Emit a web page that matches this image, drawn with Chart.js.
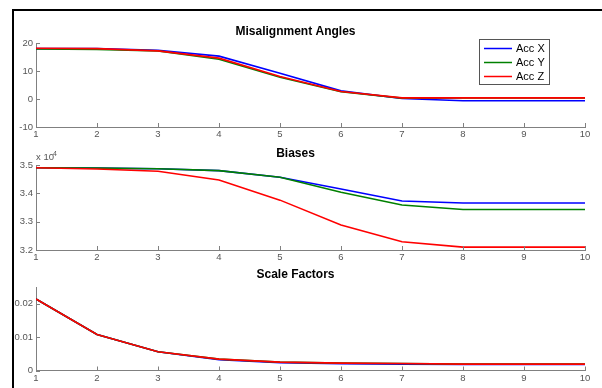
<!DOCTYPE html>
<html>
<head>
<meta charset="utf-8">
<script src="https://cdn.jsdelivr.net/npm/chart.js@4.4.0/dist/chart.umd.min.js"></script>
<style>
html, body { margin: 0; padding: 0; background: #fff; }
#wrap { position: relative; width: 602px; height: 388px; overflow: hidden; background: #fff; }
#frame { position: absolute; left: 12px; top: 9px; width: 620px; height: 400px; border-top: 2px solid #000; border-left: 2px solid #000; }
canvas { position: absolute; left: 0; top: 0; }
</style>
</head>
<body>
<div id="wrap">
  <div id="frame"></div>
  <canvas id="angles" width="602" height="388"></canvas>
  <canvas id="biases" width="602" height="388"></canvas>
  <canvas id="scales" width="602" height="388"></canvas>
</div>
<script>
// x values (iterations)
const steps = [1, 2, 3, 4, 5, 6, 7, 8, 9, 10];
const seriesNames = ['Acc X', 'Acc Y', 'Acc Z'];
const seriesColors = ['#0000ff', '#008000', '#ff0000'];

// Misalignment Angles
const angleX = [18.0, 18.0, 17.4, 15.3, 9.2, 2.9, 0.2, -0.6, -0.6, -0.6];
const angleY = [17.9, 17.7, 17.2, 14.2, 7.8, 2.6, 0.3, 0.4, 0.4, 0.4];
const angleZ = [18.1, 18.0, 17.2, 14.6, 8.0, 2.7, 0.4, 0.4, 0.4, 0.4];
const angleTicks = [-10, 0, 10, 20];

// Biases (x 10^4)
const biasX = [34905, 34890, 34870, 34800, 34570, 34150, 33730, 33660, 33660, 33660];
const biasY = [34905, 34890, 34870, 34800, 34565, 34040, 33590, 33430, 33430, 33430];
const biasZ = [34905, 34860, 34780, 34470, 33760, 32880, 32290, 32100, 32100, 32100];
const biasTicks = [32000, 33000, 34000, 35000];

// Scale Factors
const scaleX = [0.0214, 0.0108, 0.0056, 0.0032, 0.0023, 0.0020, 0.0019, 0.0018, 0.0018, 0.0018];
const scaleY = [0.0214, 0.0108, 0.0056, 0.0034, 0.0025, 0.0022, 0.0021, 0.0019, 0.0019, 0.0019];
const scaleZ = [0.0214, 0.0108, 0.0056, 0.0034, 0.0025, 0.0022, 0.0021, 0.0019, 0.0019, 0.0019];
const scaleTicks = [0, 0.01, 0.02];

const FONT = 'Liberation Sans, Arial, sans-serif';
const axisColor = '#808080';
const labelColor = '#555555';

// MATLAB style tick marks pointing into the plot
const inwardTicks = {
    id: 'inwardTicks',
    afterDraw(chart) {
        const { ctx, chartArea: a, scales: { x, y } } = chart;
        ctx.save();
        ctx.strokeStyle = axisColor;
        ctx.lineWidth = 1;
        ctx.beginPath();
        x.ticks.forEach(t => {
            const px = Math.round(x.getPixelForValue(t.value)) + 0.5;
            ctx.moveTo(px, a.bottom);
            ctx.lineTo(px, a.bottom - 4);
        });
        y.ticks.forEach(t => {
            const py = Math.round(y.getPixelForValue(t.value)) + 0.5;
            ctx.moveTo(a.left, py);
            ctx.lineTo(a.left + 4, py);
        });
        ctx.stroke();
        ctx.restore();
    }
};

// boxed legend in the top right corner of the first plot
const boxLegend = {
    id: 'boxLegend',
    afterDraw(chart) {
        const { ctx, chartArea: a } = chart;
        const left = a.right - 106, top = a.top - 4;
        ctx.save();
        ctx.fillStyle = '#fff';
        ctx.fillRect(left, top, 70, 45);
        ctx.strokeStyle = '#555';
        ctx.lineWidth = 1;
        ctx.strokeRect(left + 0.5, top + 0.5, 70, 45);
        ctx.font = '11px ' + FONT;
        ctx.textBaseline = 'middle';
        chart.data.datasets.forEach((ds, i) => {
            const cy = top + 9.5 + i * 14;
            ctx.strokeStyle = ds.borderColor;
            ctx.lineWidth = 1.5;
            ctx.beginPath();
            ctx.moveTo(left + 5, cy);
            ctx.lineTo(left + 33, cy);
            ctx.stroke();
            ctx.fillStyle = '#000';
            ctx.fillText(ds.label, left + 37, cy);
        });
        ctx.restore();
    }
};

// "x 10^4" exponent over the bias axis
const exponentLabel = {
    id: 'exponentLabel',
    afterDraw(chart) {
        const { ctx, chartArea: a } = chart;
        ctx.save();
        ctx.fillStyle = labelColor;
        ctx.textBaseline = 'middle';
        ctx.font = '9.5px ' + FONT;
        ctx.fillText('x 10', a.left, a.top - 8);
        ctx.font = '7px ' + FONT;
        ctx.fillText('4', a.left + 17, a.top - 11);
        ctx.restore();
    }
};

function makeChart(id, title, series, yMin, yMax, yTicks, fmt, box, extra) {
    // red is drawn last (on top), like the MATLAB plot order
    const datasets = series.map((vals, i) => ({
        label: seriesNames[i],
        data: steps.map((s, j) => ({ x: s, y: vals[j] })),
        borderColor: seriesColors[i],
        backgroundColor: seriesColors[i],
        borderWidth: 1.6,
        pointRadius: 0,
        tension: 0,
        fill: false,
        order: series.length - i
    }));
    return new Chart(document.getElementById(id), {
        type: 'line',
        data: { datasets },
        options: {
            responsive: false,
            animation: false,
            devicePixelRatio: 1,
            layout: { padding: { left: 6, right: 17, top: 0, bottom: box.bottom } },
            plugins: {
                legend: { display: false },
                tooltip: { enabled: false },
                title: {
                    display: true,
                    text: title,
                    color: '#000',
                    font: { family: FONT, size: 12, weight: 'bold', lineHeight: 1.2 },
                    padding: { top: box.titleTop, bottom: box.titleBottom }
                }
            },
            scales: {
                x: {
                    type: 'linear',
                    min: 1,
                    max: 10,
                    grid: { display: false, drawTicks: false },
                    border: { display: true, color: axisColor, width: 1 },
                    ticks: { color: labelColor, font: { family: FONT, size: 9.5 }, padding: 2, maxRotation: 0 },
                    afterBuildTicks: s => { s.ticks = steps.map(v => ({ value: v })); },
                    afterFit: s => { s.height = 14; s.paddingLeft = 0; s.paddingRight = 0; }
                },
                y: {
                    min: yMin,
                    max: yMax,
                    grid: { display: false, drawTicks: false },
                    border: { display: true, color: axisColor, width: 1 },
                    ticks: { color: labelColor, font: { family: FONT, size: 9.5 }, padding: 3, callback: fmt },
                    afterBuildTicks: s => { s.ticks = yTicks.map(v => ({ value: v })); },
                    afterFit: s => { s.width = 30; s.paddingTop = 0; s.paddingBottom = 0; }
                }
            }
        },
        plugins: [inwardTicks].concat(extra)
    });
}

makeChart('angles', 'Misalignment Angles', [angleX, angleY, angleZ], -10, 20, angleTicks,
    v => String(v), { titleTop: 24.8, titleBottom: 3.8, bottom: 247 }, [boxLegend]);

makeChart('biases', 'Biases', [biasX, biasY, biasZ], 32000, 35000, biasTicks,
    v => (v / 10000).toFixed(1), { titleTop: 146.1, titleBottom: 4.5, bottom: 124 }, [exponentLabel]);

makeChart('scales', 'Scale Factors', [scaleX, scaleY, scaleZ], 0, 0.025, scaleTicks,
    v => (v === 0 ? '0' : String(v)), { titleTop: 267.8, titleBottom: 4.8, bottom: 3.5 }, []);
</script>
</body>
</html>
